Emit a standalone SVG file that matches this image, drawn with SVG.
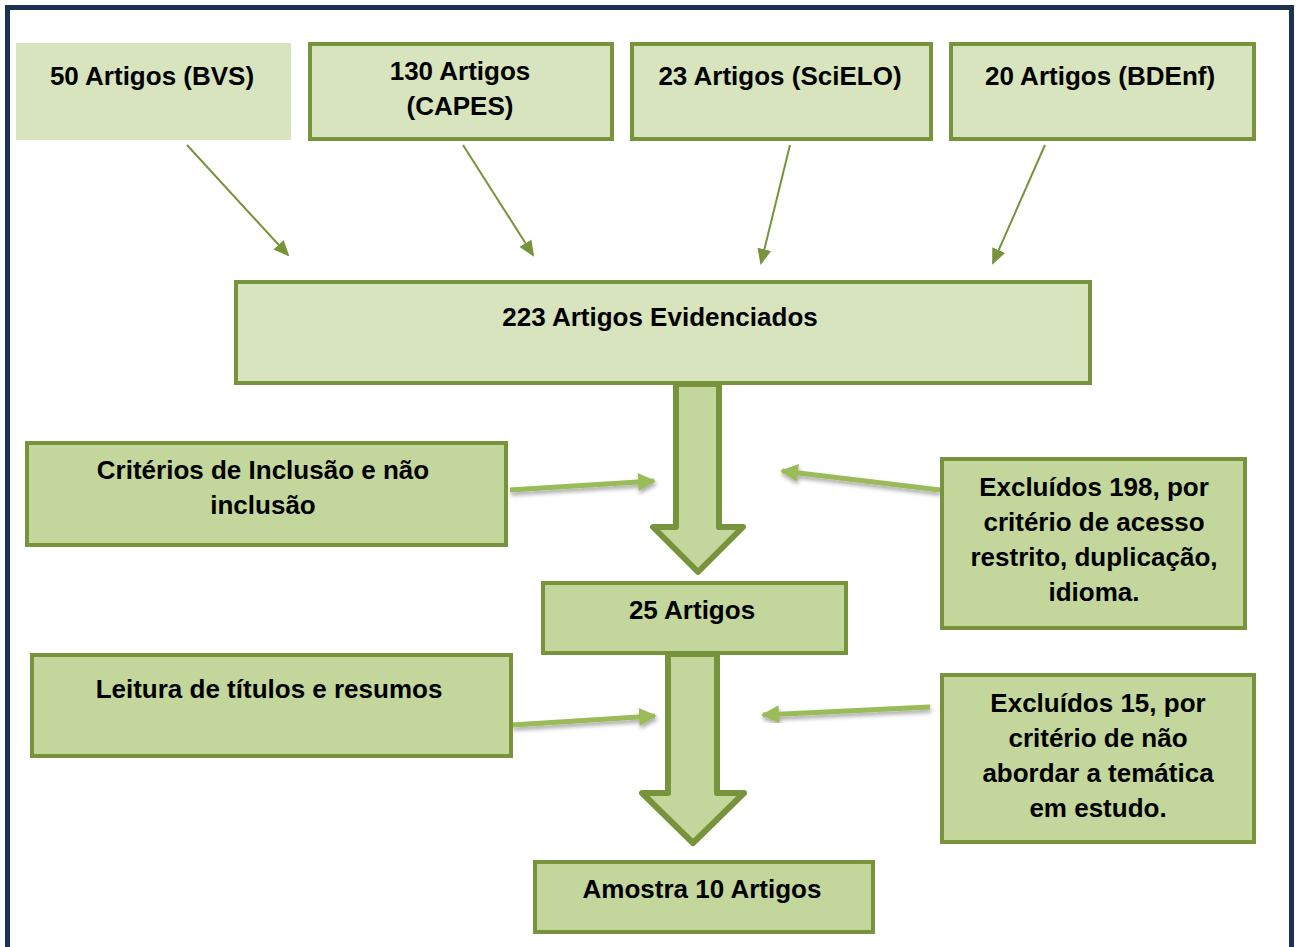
<svg xmlns="http://www.w3.org/2000/svg" width="1300" height="947" viewBox="0 0 1300 947">
<style>
.box{fill:#d7e4bd;stroke:#77933c;stroke-width:4;}
.box2{fill:#c3d69b;stroke:#77933c;stroke-width:4;}
.t{font-family:"Liberation Sans",Arial,sans-serif;font-weight:700;font-size:26px;fill:#000;text-anchor:middle;}
.thin{stroke:#77933c;stroke-width:2;fill:none;marker-end:url(#ah);}
.lt{stroke:#9bbb59;stroke-width:5;fill:none;marker-end:url(#ah2);filter:url(#sh);}
.block{fill:#c3d69b;stroke:#77933c;stroke-width:6;stroke-linejoin:round;}
</style>
<defs>
<marker id="ah" markerWidth="16" markerHeight="16" refX="14" refY="8" orient="auto" markerUnits="userSpaceOnUse" viewBox="0 0 16 16">
<path d="M0,1 L16,8 L0,15 Z" fill="#77933c"/>
</marker>
<marker id="ah2" markerWidth="18" markerHeight="18" refX="16" refY="9" orient="auto" markerUnits="userSpaceOnUse" viewBox="0 0 18 18">
<path d="M0,0 L18,9 L0,18 Z" fill="#9bbb59"/>
</marker>
<filter id="sh" x="-20%" y="-100%" width="140%" height="300%">
<feDropShadow dx="1" dy="3" stdDeviation="2" flood-color="#000" flood-opacity="0.35"/>
</filter>
</defs>
<rect x="0" y="0" width="1300" height="947" fill="#fff"/>
<rect x="7.5" y="7.5" width="1284" height="960" fill="#fff" stroke="#1b3351" stroke-width="5"/>

<g id="connectors">
<path class="block" d="M676,384 L719,384 L719,527 L743,527 L698,572 L653,527 L676,527 Z"/>
<path class="block" d="M668,654 L717,654 L717,793 L744,793 L693,843 L642,793 L668,793 Z"/>
<line class="thin" x1="187" y1="145" x2="288" y2="255"/>
<line class="thin" x1="463" y1="145" x2="533" y2="255"/>
<line class="thin" x1="790" y1="145" x2="761" y2="263"/>
<line class="thin" x1="1045" y1="145" x2="993" y2="263"/>
<line class="lt" x1="510" y1="490" x2="654" y2="481"/>
<line class="lt" x1="940" y1="490" x2="782" y2="471"/>
<line class="lt" x1="512" y1="725" x2="655" y2="716"/>
<line class="lt" x1="930" y1="707" x2="763" y2="715"/>
</g>

<g id="bvs"><rect x="16" y="43" width="275" height="97" fill="#d7e4bd"/><text class="t" x="152" y="85">50 Artigos (BVS)</text></g>
<g id="capes"><rect class="box" x="310" y="44" width="302" height="95"/><text class="t" x="460" y="80">130 Artigos</text><text class="t" x="460" y="115">(CAPES)</text></g>
<g id="scielo"><rect class="box" x="632" y="44" width="299" height="95"/><text class="t" x="780" y="85">23 Artigos (SciELO)</text></g>
<g id="bdenf"><rect class="box" x="951" y="44" width="303" height="95"/><text class="t" x="1100" y="85">20 Artigos (BDEnf)</text></g>
<g id="evid"><rect class="box" x="236" y="282" width="854" height="101"/><text class="t" x="660" y="326">223 Artigos Evidenciados</text></g>
<g id="criterios"><rect class="box2" x="27" y="443" width="479" height="102"/><text class="t" x="263" y="479">Critérios de Inclusão e não</text><text class="t" x="263" y="514">inclusão</text></g>
<g id="excl198"><rect class="box2" x="942" y="459" width="303" height="169"/><text class="t" x="1094" y="496">Excluídos 198, por</text><text class="t" x="1094" y="531">critério de acesso</text><text class="t" x="1094" y="566">restrito, duplicação,</text><text class="t" x="1094" y="601">idioma.</text></g>
<g id="a25"><rect class="box2" x="543" y="583" width="303" height="70"/><text class="t" x="692" y="619">25 Artigos</text></g>
<g id="leitura"><rect class="box2" x="32" y="655" width="479" height="101"/><text class="t" x="269" y="698">Leitura de títulos e resumos</text></g>
<g id="excl15"><rect class="box2" x="942" y="675" width="312" height="167"/><text class="t" x="1098" y="712">Excluídos 15, por</text><text class="t" x="1098" y="747">critério de não</text><text class="t" x="1098" y="782">abordar a temática</text><text class="t" x="1098" y="817">em estudo.</text></g>
<g id="amostra"><rect class="box2" x="535" y="862" width="338" height="70"/><text class="t" x="702" y="898">Amostra 10 Artigos</text></g>
</svg>
